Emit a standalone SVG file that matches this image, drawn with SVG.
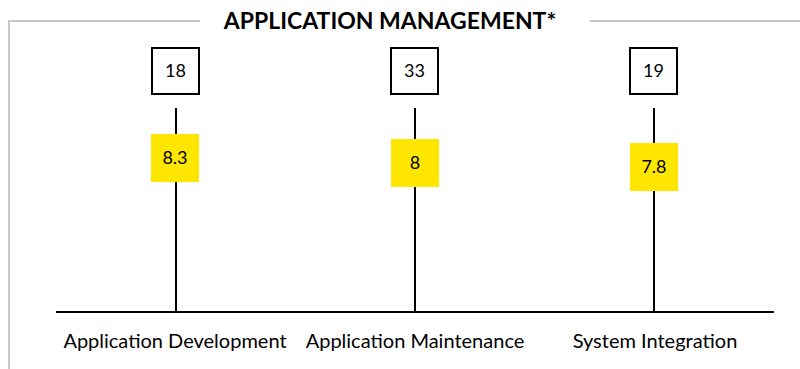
<svg xmlns="http://www.w3.org/2000/svg" width="800" height="369" viewBox="0 0 800 369">
  <style>
    .frame { fill: none; stroke: #c8c8c8; stroke-width: 2; }
    .stem { stroke: #000; stroke-width: 2; }
    .count { fill: #fff; stroke: #000; stroke-width: 2; }
    .score { fill: #ffe600; }
    .num { font-family: "Lato", "Liberation Sans", sans-serif; font-size: 18px; fill: #000; text-anchor: middle; }
    .lbl { font-family: "Lato", "Liberation Sans", sans-serif; font-size: 20px; fill: #000; text-anchor: middle; }
    .title { font-family: "Lato", "Liberation Sans", sans-serif; font-size: 23px; font-weight: bold; fill: #000; text-anchor: middle; }
  </style>
  <rect width="800" height="369" fill="#fff"/>

  <!-- outer frame broken by the heading -->
  <path class="frame" d="M200 21 H9 V369 M590 21 H800"/>
  <text class="title" x="390" y="29">APPLICATION MANAGEMENT*</text>

  <g id="connectors">
    <line class="stem" x1="56" y1="312" x2="774" y2="312"/>
    <line class="stem" x1="176" y1="108" x2="176" y2="312"/>
    <line class="stem" x1="415" y1="108" x2="415" y2="312"/>
    <line class="stem" x1="654" y1="108" x2="654" y2="312"/>
  </g>

  <g id="app-development">
    <rect class="count" x="152" y="48" width="47" height="46"/>
    <text class="num" x="175.5" y="77">18</text>
    <rect class="score" x="151" y="134" width="48" height="48"/>
    <text class="num" x="175" y="164">8.3</text>
    <text class="lbl" x="175" y="348">Application Development</text>
  </g>

  <g id="app-maintenance">
    <rect class="count" x="391" y="48" width="47" height="46"/>
    <text class="num" x="414.5" y="77">33</text>
    <rect class="score" x="391" y="139" width="48" height="48"/>
    <text class="num" x="415" y="169">8</text>
    <text class="lbl" x="415" y="348">Application Maintenance</text>
  </g>

  <g id="system-integration">
    <rect class="count" x="630" y="48" width="47" height="46"/>
    <text class="num" x="653.5" y="77">19</text>
    <rect class="score" x="630" y="143" width="48" height="48"/>
    <text class="num" x="654" y="173">7.8</text>
    <text class="lbl" x="655" y="348">System Integration</text>
  </g>
</svg>
